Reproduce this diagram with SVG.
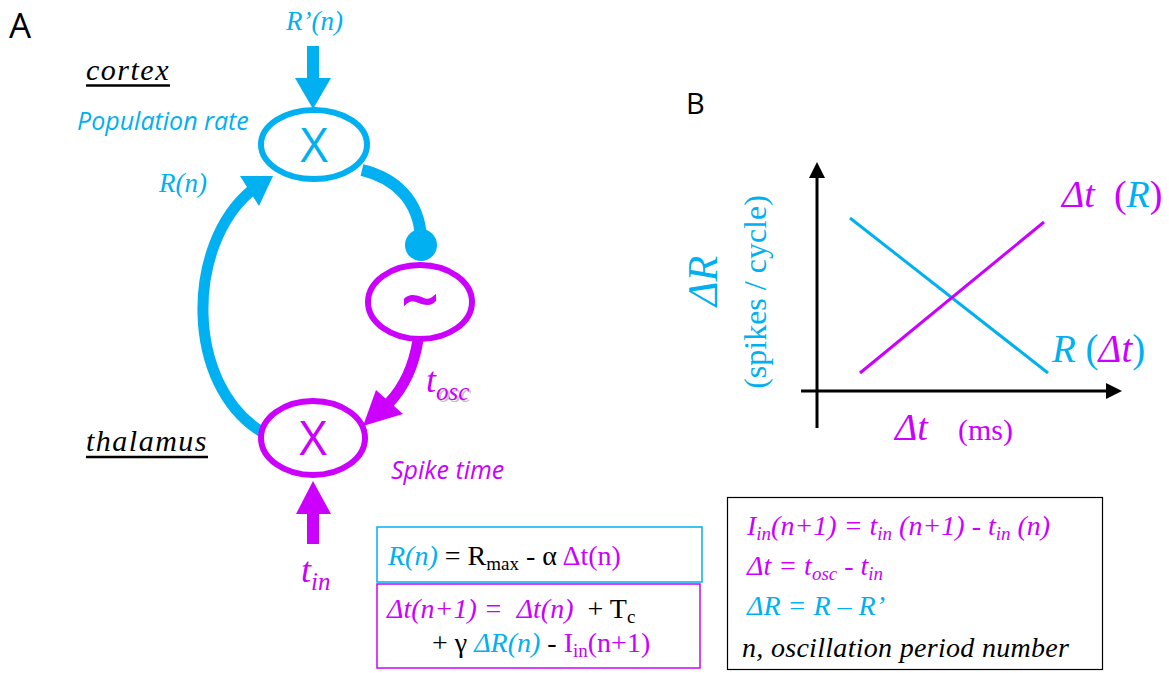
<svg xmlns="http://www.w3.org/2000/svg" width="1169" height="673" viewBox="0 0 1169 673">
<style>
.serif{font-family:"Liberation Serif","Times New Roman",serif;white-space:pre}
.sans{font-family:"Open Sans","Liberation Sans",sans-serif;white-space:pre}
.it{font-style:italic}
.b{fill:#00B0F0}
.m{fill:#CC00FF}
.k{fill:#000}
.node{fill:#fff;stroke-width:6}
.bl{stroke:#00B0F0}
.mg{stroke:#CC00FF}
</style>
<rect width="1169" height="673" fill="#fff"/>

<!-- panel labels -->
<text x="9" y="38" class="sans k" font-size="35">A</text>
<text x="686" y="114" class="sans k" font-size="29">B</text>

<!-- region labels -->
<g id="labels">
<text x="86" y="80" class="serif it k" font-size="30" letter-spacing="1.5">cortex</text>
<line x1="86" y1="85.5" x2="170" y2="85.5" stroke="#000" stroke-width="2.5"/>
<text x="86" y="451" class="serif it k" font-size="30" letter-spacing="1.5">thalamus</text>
<line x1="86" y1="457" x2="208" y2="457" stroke="#000" stroke-width="2.5"/>
<text x="77" y="130" class="sans it b" font-size="25">Population rate</text>
<text x="391" y="479" class="sans it m" font-size="25">Spike time</text>
<text x="286" y="30" class="serif it b" font-size="27">R’(n)</text>
<text x="159" y="192" class="serif it b" font-size="27">R(n)</text>
<text x="301" y="582" class="serif it m" font-size="36">t<tspan font-size="25" dy="8">in</tspan></text>
<text x="428" y="394" class="serif it" font-size="36" fill="#aaa" opacity="0.7"><tspan fill="none">t</tspan><tspan font-size="25" dy="8">osc</tspan></text>
<text x="426" y="392" class="serif it m" font-size="36">t<tspan font-size="25" dy="8">osc</tspan></text>
</g>

<!-- connectors -->
<g id="connectors">
<rect x="307" y="46" width="12" height="33" fill="#00B0F0"/>
<polygon points="295,78 331,78 313,109" fill="#00B0F0"/>
<path d="M262 432 C185 385 185 245 252 190" fill="none" stroke="#00B0F0" stroke-width="11"/>
<polygon points="273,176 240,176 259,206" fill="#00B0F0"/>
<path d="M362 170 C395 178 419 200 421 238" fill="none" stroke="#00B0F0" stroke-width="12"/>
<circle cx="421" cy="245" r="16" fill="#00B0F0"/>
<path d="M418 340 C414 365 405 386 389 403" fill="none" stroke="#CC00FF" stroke-width="11"/>
<polygon points="363,426 376,390 403,414" fill="#CC00FF"/>
<polygon points="313,481 296,514 331,514" fill="#CC00FF"/>
<rect x="307" y="513" width="12" height="31" fill="#CC00FF"/>
</g>

<g id="node-cortex">
<ellipse cx="314" cy="144.5" rx="53" ry="34.5" class="node bl"/>
<text x="314" y="162" text-anchor="middle" class="sans b" font-size="48">X</text>
</g>
<g id="node-osc">
<ellipse cx="420" cy="302" rx="52" ry="37" class="node mg"/>
<text x="420" y="323" text-anchor="middle" class="sans m" font-size="64" stroke="#CC00FF" stroke-width="2">~</text>
</g>
<g id="node-thalamus">
<ellipse cx="313" cy="438" rx="52" ry="37" class="node mg"/>
<text x="313" y="455" text-anchor="middle" class="sans m" font-size="48">X</text>
</g>

<!-- equation boxes -->
<g id="box-rate">
<rect x="377" y="527" width="325" height="55" fill="none" stroke="#00B0F0" stroke-width="1.5"/>
<text x="388" y="565" class="serif k" font-size="28"><tspan class="it b">R(n)</tspan> = R<tspan font-size="19" dy="5">max</tspan><tspan dy="-5"> - α </tspan><tspan class="m">Δt(n)</tspan></text>
</g>
<g id="box-time">
<rect x="377" y="584" width="323" height="84" fill="none" stroke="#CC00FF" stroke-width="1.5"/>
<text x="387" y="618" class="serif k" font-size="28"><tspan class="it m">Δt(n+1) =  Δt(n)</tspan>  + T<tspan font-size="19" dy="5">c</tspan></text>
<text x="432" y="652" class="serif k" font-size="28">+ γ <tspan class="it b">ΔR(n)</tspan> - <tspan class="m">I<tspan font-size="19" dy="5">in</tspan><tspan dy="-5">(n+1)</tspan></tspan></text>
</g>
<g id="box-defs">
<rect x="727.5" y="497.5" width="375" height="172" fill="none" stroke="#000" stroke-width="1.2"/>
<text x="747" y="535" class="serif it m" font-size="28">I<tspan font-size="19" dy="5">in</tspan><tspan dy="-5">(n+1) = t</tspan><tspan font-size="19" dy="5">in</tspan><tspan dy="-5"> (n+1) - t</tspan><tspan font-size="19" dy="5">in</tspan><tspan dy="-5"> (n)</tspan></text>
<text x="747" y="575" class="serif it m" font-size="28">Δt = t<tspan font-size="19" dy="5">osc</tspan><tspan dy="-5"> - t</tspan><tspan font-size="19" dy="5">in</tspan></text>
<text x="747" y="615" class="serif it b" font-size="28">ΔR = R – R’</text>
<text x="742" y="657" class="serif it k" font-size="28" letter-spacing="0.3">n, oscillation period number</text>
</g>

<!-- chart B -->
<g id="chart">
<line x1="817" y1="428" x2="817" y2="175" stroke="#000" stroke-width="3"/>
<polygon points="817,162 809,178 825,178" fill="#000"/>
<line x1="801" y1="391" x2="1108" y2="391" stroke="#000" stroke-width="3"/>
<polygon points="1122,391 1106,383 1106,399" fill="#000"/>
<line x1="850" y1="218" x2="1048" y2="373" stroke="#00B0F0" stroke-width="3"/>
<line x1="860" y1="373" x2="1044" y2="222" stroke="#CC00FF" stroke-width="3"/>
<text x="1062" y="207" class="serif m" font-size="38"><tspan class="it">Δt</tspan>  (<tspan class="it b">R</tspan>)</text>
<text x="1052" y="362" class="serif b" font-size="39"><tspan class="it">R</tspan> (<tspan class="it m">Δt</tspan>)</text>
<text transform="translate(717 281) rotate(-90)" text-anchor="middle" class="serif it b" font-size="42">ΔR</text>
<text transform="translate(766 292) rotate(-90)" text-anchor="middle" class="serif b" font-size="32">(spikes / cycle)</text>
<text x="895" y="440" class="serif it m" font-size="38">Δt</text>
<text x="958" y="440" class="serif m" font-size="30">(ms)</text>
</g>
</svg>
